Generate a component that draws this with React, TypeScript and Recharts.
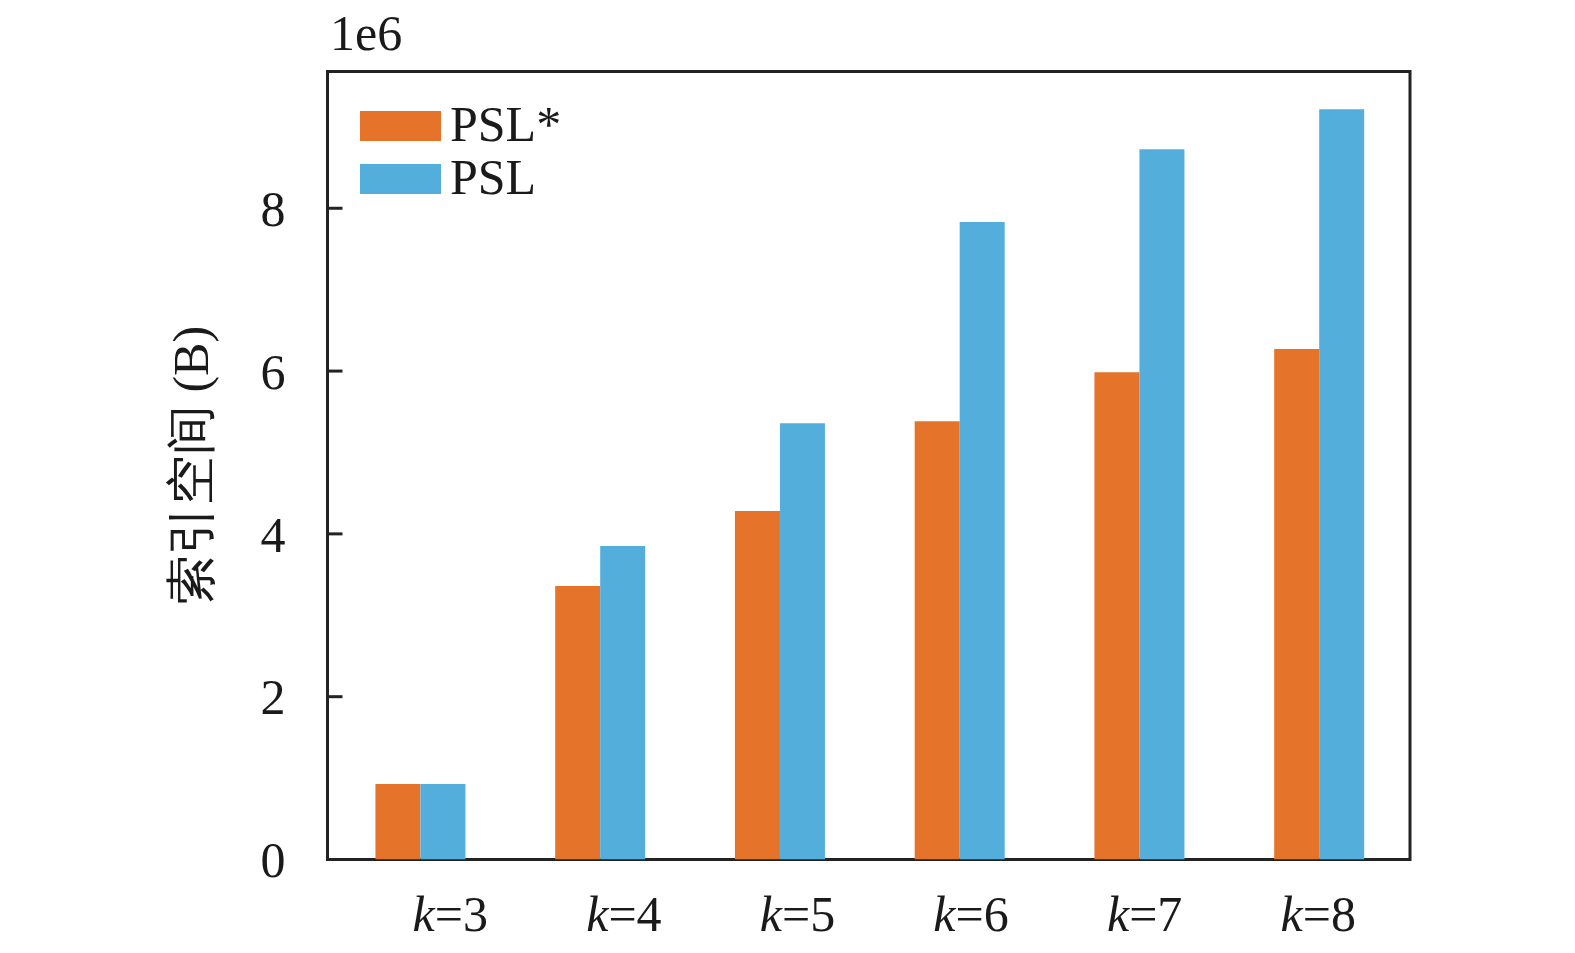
import React from 'react';
import { BarChart, Bar, XAxis, YAxis, Label, ReferenceArea } from 'recharts';

const categories = ['k=3', 'k=4', 'k=5', 'k=6', 'k=7', 'k=8'];
const pslStar = [0.928, 3.36, 4.281, 5.383, 5.985, 6.272];
const psl = [0.928, 3.851, 5.359, 7.832, 8.725, 9.216];
const yTicks = [0, 2, 4, 6, 8];
const yDomain = [0, 9.68];
const seriesNames = ['PSL*', 'PSL'];
const seriesKeys = ['pslStar', 'psl'];
const colors = ['#E5732A', '#53AEDB'];
const yLabel = '索引空间 (B)';
const multiplier = '1e6';

const data = categories.map((c, i) => ({ k: c, pslStar: pslStar[i], psl: psl[i] }));

const FONT = 'Liberation Serif';
const INK = '#1a1a1a';
const AXIS = '#222';

const XTick = (props: any) => {
  const { x, y, payload } = props;
  const s: string = String(payload.value);
  const rest = s.slice(1);
  return (
    <text x={x} y={y} dy={71} textAnchor="middle" fontFamily={FONT} fontSize={50} fill={INK}>
      <tspan fontStyle="italic">k</tspan>
      <tspan>{rest}</tspan>
    </text>
  );
};

export default function App() {
  return (
    <div style={{ position: 'absolute', left: 0, top: 0, width: 1575, height: 953, background: '#fff' }}>
      <BarChart
        width={1575}
        height={953}
        data={data}
        margin={{ top: 71.5, right: 165, bottom: 0, left: 227.5 }}
        barCategoryGap="25%"
        barGap={0}
      >
        <XAxis
          xAxisId="frame"
          dataKey="k"
          height={0}
          hide
        />
        <XAxis
          xAxisId="bars"
          dataKey="k"
          height={0}
          tick={false}
          tickLine={false}
          axisLine={false}
          padding={{ left: 3, right: 1 }}
        />
        <XAxis
          xAxisId="labels"
          dataKey="k"
          height={93.5}
          axisLine={false}
          tickLine={false}
          tickSize={0}
          tickMargin={0}
          padding={{ left: 36, right: 5 }}
          tick={<XTick />}
          interval={0}
        />
        <YAxis
          yAxisId="left"
          width={100}
          domain={yDomain}
          ticks={yTicks}
          allowDataOverflow
          axisLine={false}
          tickLine={{ stroke: AXIS, strokeWidth: 3 }}
          tickSize={-15}
          tickMargin={57}
          tick={{ fontFamily: FONT, fontSize: 50, fill: INK }}
        >
          <Label
            content={(p: any) => {
              const vb = p.viewBox;
              const cx = vb.x - 37;
              const cy = vb.y + vb.height / 2;
              return (
                <text
                  x={cx}
                  y={cy}
                  transform={`rotate(-90, ${cx}, ${cy})`}
                  textAnchor="middle"
                  dominantBaseline="central"
                  fontFamily={FONT}
                  fontSize={50}
                  fill={INK}
                >
                  {yLabel}
                </text>
              );
            }}
          />
        </YAxis>
        {seriesKeys.map((key, i) => (
          <Bar
            key={key}
            dataKey={key}
            name={seriesNames[i]}
            fill={colors[i]}
            xAxisId="bars"
            yAxisId="left"
            isAnimationActive={false}
          />
        ))}
        <ReferenceArea
          xAxisId="frame"
          yAxisId="left"
          y1={yDomain[0]}
          y2={yDomain[1]}
          fill="none"
          fillOpacity={0}
          stroke={AXIS}
          strokeWidth={3}
          ifOverflow="visible"
        />
      </BarChart>
      <svg
        width={1575}
        height={953}
        style={{ position: 'absolute', left: 0, top: 0, pointerEvents: 'none' }}
      >
        <text x={330} y={50} fontFamily={FONT} fontSize={50} fill={INK}>
          {multiplier}
        </text>
        {seriesNames.map((n, i) => (
          <g key={n}>
            <rect x={360} y={111 + i * 53} width={81} height={30} fill={colors[i]} />
            <text x={450} y={141 + i * 53} fontFamily={FONT} fontSize={50} fill={INK}>
              {n}
            </text>
          </g>
        ))}
      </svg>
    </div>
  );
}
